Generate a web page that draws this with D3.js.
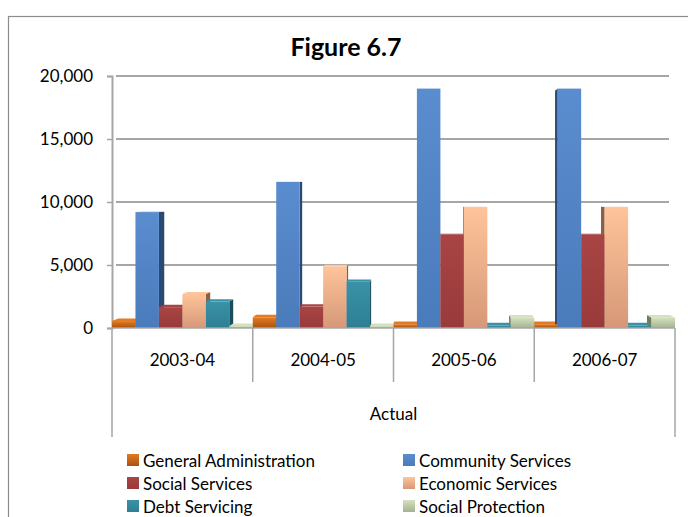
<!DOCTYPE html>
<html>
<head>
<meta charset="utf-8">
<script src="https://cdn.jsdelivr.net/npm/d3@7"></script>
<style>
  html, body { margin: 0; padding: 0; background: #fff; }
  svg { display: block; font-family: Lato, "Open Sans", sans-serif; }
</style>
</head>
<body>
<svg id="chart" width="688" height="517"></svg>
<script>
// Expenditure by function, actual figures
const years = ["2003-04", "2004-05", "2005-06", "2006-07"];
const seriesNames = ["General Administration", "Community Services", "Social Services",
                     "Economic Services", "Debt Servicing", "Social Protection"];
const generalAdministration = [550, 850, 300, 300];
const communityServices     = [9200, 11600, 19000, 19000];
const socialServices        = [1650, 1700, 7400, 7400];
const economicServices      = [2700, 4900, 9600, 9600];
const debtServicing         = [2100, 3700, 200, 200];
const socialProtection      = [150, 150, 820, 820];
const yTicks = [0, 5000, 10000, 15000, 20000];

const seriesValues = [generalAdministration, communityServices, socialServices,
                      economicServices, debtServicing, socialProtection];

// colour ramps: [top, bottom, side]
const palette = [
  ["#e47a22", "#a8530f", "#7a3a08"],
  ["#5a8dcf", "#4a7bbb", "#2b4a73"],
  ["#a84444", "#993a3a", "#5f2222"],
  ["#ffc49a", "#d69878", "#8a6040"],
  ["#3a92a8", "#2e7f93", "#1b4e5b"],
  ["#d3e1bf", "#a4b293", "#6f7d5e"]
];

const svg = d3.select("#chart");
const defs = svg.append("defs");
palette.forEach((c, i) => {
  const g = defs.append("linearGradient").attr("id", "grad" + i)
    .attr("x1", 0).attr("y1", 0).attr("x2", 0).attr("y2", 1);
  g.append("stop").attr("offset", "0%").attr("stop-color", c[0]);
  g.append("stop").attr("offset", "100%").attr("stop-color", c[1]);
});

// outer frame
svg.append("rect").attr("x", 8.5).attr("y", 16.5).attr("width", 700).attr("height", 520)
  .attr("fill", "#fff").attr("stroke", "#8c8c8c").attr("stroke-width", 1.2);

svg.append("text").attr("x", 346).attr("y", 56).attr("text-anchor", "middle")
  .attr("font-size", 25).attr("font-weight", "bold").attr("fill", "#000")
  .text("Figure 6.7");

const plotLeft = 112, plotRight = 675, plotTop = 76, base = 328, gridRight = 669;

const x = d3.scaleBand().domain(years).range([plotLeft, plotRight]).padding(0);
const xs = d3.scaleBand().domain(d3.range(seriesNames.length)).range([0, x.bandwidth()]).padding(0);
const y = d3.scaleLinear().domain([0, 20000]).range([base, plotTop]);

// gridlines
svg.append("g").selectAll("line").data(yTicks.slice(1)).join("line")
  .attr("x1", plotLeft + 4).attr("x2", gridRight)
  .attr("y1", d => y(d)).attr("y2", d => y(d))
  .attr("stroke", "#a6a6a6").attr("stroke-width", 2);

// y axis
const yAxis = d3.axisLeft(y).tickValues(yTicks).tickSize(5).tickPadding(14)
  .tickFormat(d3.format(","));
const ya = svg.append("g").attr("transform", `translate(${plotLeft},0)`).call(yAxis);
ya.select(".domain").attr("stroke", "#a6a6a6").attr("stroke-width", 2);
ya.selectAll(".tick line").attr("stroke", "#a6a6a6").attr("stroke-width", 1.5);
ya.selectAll(".tick text").attr("font-size", 17).attr("fill", "#000")
  .attr("font-family", "Lato, sans-serif");

// bars with a slight perspective depth
const vx = 425, vy = 190, t = 0.02;
const bars = [];
years.forEach((yr, ci) => {
  seriesValues.forEach((vals, si) => {
    const x0 = x(yr) + xs(si), x1 = x0 + xs.bandwidth();
    bars.push({ si, x0, x1, y0: y(vals[ci]), y1: base, value: vals[ci] });
  });
});
const back = (px, py) => [px + (vx - px) * t, py + (vy - py) * t];

const faces = svg.append("g");
bars.forEach(b => {
  const c = palette[b.si];
  const [bx0, by0] = back(b.x0, b.y0), [bx1, by1] = back(b.x1, b.y0);
  const [bx0b, by0b] = back(b.x0, b.y1), [bx1b, by1b] = back(b.x1, b.y1);
  // side face
  const side = (bx1 > b.x1)
    ? [[b.x1, b.y0], [bx1, by1], [bx1b, by1b], [b.x1, b.y1]]
    : [[b.x0, b.y0], [bx0, by0], [bx0b, by0b], [b.x0, b.y1]];
  faces.append("polygon").attr("points", side.map(p => p.join(",")).join(" "))
    .attr("fill", c[2]);
  // top face
  if (by0 < b.y0) {
    faces.append("polygon")
      .attr("points", [[b.x0, b.y0], [bx0, by0], [bx1, by1], [b.x1, b.y0]].map(p => p.join(",")).join(" "))
      .attr("fill", c[0]);
  }
});
svg.append("g").selectAll("rect").data(bars).join("rect")
  .attr("x", d => d.x0).attr("y", d => d.y0)
  .attr("width", d => d.x1 - d.x0).attr("height", d => d.y1 - d.y0)
  .attr("fill", d => `url(#grad${d.si})`);

// category axis
const ax = svg.append("g").attr("stroke", "#a6a6a6").attr("stroke-width", 1.5);
ax.append("line").attr("x1", plotLeft).attr("x2", plotRight).attr("y1", base).attr("y2", base);
years.forEach((yr, i) => {
  ax.append("line").attr("x1", x(yr)).attr("x2", x(yr))
    .attr("y1", base).attr("y2", i === 0 ? 437 : 382);
});
ax.append("line").attr("x1", plotRight).attr("x2", plotRight).attr("y1", base).attr("y2", 437);

svg.append("g").selectAll("text").data(years).join("text")
  .attr("x", d => x(d) + x.bandwidth() / 2).attr("y", 366)
  .attr("text-anchor", "middle").attr("font-size", 17).attr("fill", "#000")
  .text(d => d);

svg.append("text").attr("x", (plotLeft + plotRight) / 2).attr("y", 420)
  .attr("text-anchor", "middle").attr("font-size", 17).attr("fill", "#000").text("Actual");

// legend
const legendCols = [127, 403], legendRows = [467, 490, 513];
const lg = svg.append("g").selectAll("g").data(seriesNames).join("g")
  .attr("transform", (d, i) => `translate(${legendCols[i % 2]},${legendRows[Math.floor(i / 2)]})`);
lg.append("rect").attr("x", 0).attr("y", -13).attr("width", 12).attr("height", 12)
  .attr("fill", (d, i) => `url(#grad${i})`);
lg.append("text").attr("x", 16).attr("y", 0).attr("font-size", 17).attr("fill", "#000")
  .text(d => d);
</script>
</body>
</html>
